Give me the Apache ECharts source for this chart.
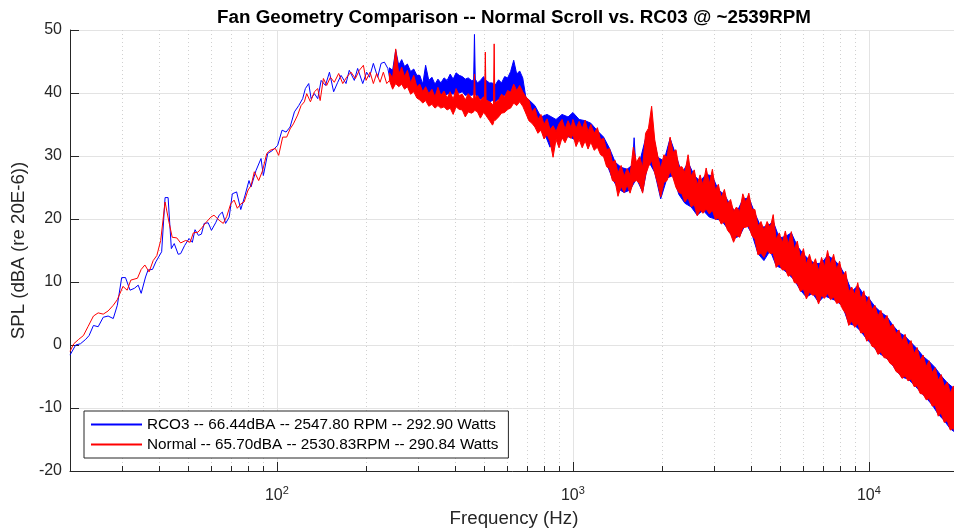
<!DOCTYPE html>
<html>
<head>
<meta charset="utf-8">
<title>Fan Geometry Comparison</title>
<script src="https://cdn.jsdelivr.net/npm/echarts@6/dist/echarts.min.js"></script>
<style>
html, body { margin: 0; padding: 0; background: #fff; }
#chart { width: 954px; height: 531px; }
</style>
</head>
<body>
<div id="chart"></div>
<script>
const rco3Name = 'RCO3 -- 66.44dBA -- 2547.80 RPM -- 292.90 Watts'
const normalName = 'Normal -- 65.70dBA -- 2530.83RPM -- 290.84 Watts'

// low frequency part (20 - 240 Hz), read point by point
const rco3LowFreq = [20, 20.9, 21.7, 22.6, 23.2, 24.0, 24.9, 25.9, 26.9, 28.0,
  28.9, 29.9, 30.8, 31.9, 33.0, 34.0, 34.8, 36.0, 36.7, 38.0,
  39.0, 40.8, 41.9, 42.9, 44.0, 45.0, 46.4, 47.3, 48.8, 50.5,
  51.8, 52.9, 54.3, 55.6, 56.8, 58.6, 60.1, 62.1, 63.8, 65.4,
  67.1, 69.0, 70.7, 73.1, 75.5, 78.1, 80.5, 81.8, 85.0, 88.4,
  90.0, 93.1, 96.8, 100.6, 104.1, 107.4, 110.8, 114.6, 118.5, 122.2,
  124.8, 128.1, 130.5, 133.9, 137.4, 141.1, 145.9, 150.5, 155.5, 160.5,
  164.7, 171.2, 175.6, 182.6, 187.4, 195.0, 201.0, 205.4, 211.8, 219.0,
  224.9, 230.8, 237.0]
const rco3LowSpl = [-1.6, 0.0, 0.2, 0.9, 1.5, 3.1, 2.9, 4.4, 4.6, 4.2,
  6.3, 10.7, 10.7, 8.7, 9.0, 9.5, 8.2, 10.8, 11.9, 12.0,
  13.2, 14.8, 23.4, 23.4, 15.3, 16.1, 14.4, 14.5, 15.8, 16.9,
  16.3, 18.3, 17.4, 17.6, 19.3, 19.4, 18.2, 19.4, 20.6, 21.1,
  19.3, 20.3, 24.0, 24.3, 21.5, 23.8, 26.1, 25.1, 27.7, 29.6,
  26.9, 30.4, 30.9, 31.7, 34.1, 33.8, 34.6, 37.0, 38.0, 39.1,
  40.7, 41.5, 39.1, 39.9, 39.1, 42.0, 41.2, 43.3, 40.2, 41.7,
  42.8, 41.5, 43.6, 42.0, 43.9, 41.5, 43.3, 42.5, 44.7, 42.5,
  44.7, 44.9, 43.9]

const normalLowFreq = [20, 20.6, 21.4, 22.2, 23.0, 24.0, 24.9, 25.9, 26.9, 28.0,
  28.9, 30.2, 31.2, 32.1, 33.8, 34.8, 35.8, 37.0, 38.2, 39.3,
  40.5, 41.9, 43.2, 44.3, 45.9, 47.3, 49.2, 50.9, 52.2, 54.1,
  56.0, 57.5, 59.8, 61.3, 63.8, 65.9, 67.7, 69.8, 71.7, 73.5,
  75.5, 77.5, 79.9, 81.8, 83.9, 86.8, 89.5, 92.4, 94.8, 98.8,
  101.4, 104.6, 107.9, 110.8, 113.7, 117.5, 120.7, 123.8, 126.1, 129.8,
  133.9, 137.4, 140.0, 143.6, 147.3, 151.6, 156.3, 161.7, 166.9, 172.0,
  178.0, 184.1, 189.9, 196.0, 200.1, 206.4, 211.8, 217.3, 223.1, 228.9,
  235.0]
const normalLowSpl = [-1.0, 0.2, 0.9, 1.5, 2.9, 4.6, 5.1, 4.9, 5.4, 6.3,
  7.2, 9.3, 8.7, 10.3, 10.6, 12.0, 12.7, 11.6, 13.4, 14.2,
  16.6, 22.7, 19.5, 17.1, 17.0, 16.2, 16.6, 16.3, 17.8, 17.9,
  18.7, 19.4, 20.3, 20.6, 19.8, 19.3, 20.4, 22.4, 23.0, 21.7,
  22.4, 22.7, 24.6, 25.3, 27.5, 26.1, 27.7, 30.4, 30.9, 31.2,
  30.1, 33.0, 33.0, 34.3, 35.1, 36.5, 38.0, 38.6, 39.9, 38.6,
  40.2, 40.7, 38.8, 42.3, 41.2, 42.5, 41.7, 43.1, 41.5, 42.5,
  43.3, 42.3, 43.6, 44.4, 42.0, 43.3, 41.5, 43.1, 41.7, 43.3,
  41.5]

// mid part (240 - 693 Hz): noisy trace kept as upper and lower edges, spikes included
const midFreq = [240, 246, 252, 258, 264, 270, 276, 283, 290, 297,
  304, 311, 318, 326, 334, 342, 350, 358, 367, 376,
  385, 394, 403, 413, 423, 433, 443, 454, 462, 465,
  468, 476, 487, 499, 503, 506, 509, 523, 535, 539,
  542, 545, 561, 574, 588, 602, 616, 631, 646, 661,
  677, 693]
const normalMidTop = [43.2, 42.4, 47.0, 43.0, 44.1, 42.6, 43.6, 41.6, 42.8, 41.0,
  41.4, 40.2, 41.0, 39.9, 40.6, 39.4, 40.9, 39.6, 40.3, 39.2,
  40.2, 39.0, 40.7, 39.6, 39.8, 38.9, 39.9, 39.2, 39.0, 43.0,
  39.3, 39.6, 38.8, 39.4, 39.0, 46.5, 38.9, 38.6, 38.2, 38.0,
  47.8, 38.4, 38.9, 39.8, 39.4, 40.4, 40.1, 41.4, 40.4, 41.2,
  40.2, 39.4]
const normalMidBot = [42.0, 40.6, 41.5, 41.0, 41.4, 40.6, 41.0, 39.8, 40.2, 39.2,
  38.9, 38.4, 38.8, 37.9, 38.2, 37.6, 38.0, 37.6, 37.8, 37.3,
  37.6, 36.6, 37.8, 37.4, 37.3, 36.2, 37.0, 36.8, 37.0, 37.3,
  37.2, 37.0, 36.0, 36.9, 36.7, 36.6, 36.4, 35.6, 34.9, 35.2,
  35.8, 35.6, 36.2, 36.8, 36.9, 37.4, 37.6, 38.4, 38.0, 38.6,
  37.9, 36.8]
const rco3MidTop = [44.0, 43.6, 46.8, 44.4, 45.3, 44.2, 44.6, 43.4, 43.8, 42.8,
  42.8, 41.4, 44.4, 42.0, 42.5, 41.4, 42.2, 41.6, 42.4, 42.0,
  43.0, 42.2, 43.2, 42.8, 42.6, 42.2, 42.4, 42.0, 42.0, 49.3,
  42.2, 41.6, 42.0, 42.6, 42.2, 41.8, 42.0, 41.6, 41.6, 41.4,
  41.0, 41.2, 42.1, 41.6, 42.6, 42.4, 43.4, 45.2, 43.0, 43.5,
  42.4, 39.4]
const rco3MidBot = [42.6, 41.8, 42.8, 42.4, 42.8, 42.0, 42.2, 41.0, 41.2, 40.4,
  39.8, 39.0, 39.6, 39.2, 38.8, 38.6, 39.0, 39.2, 39.6, 39.8,
  40.0, 39.8, 40.2, 40.0, 40.2, 39.6, 39.8, 39.6, 39.8, 40.0,
  39.8, 39.4, 39.0, 39.4, 39.2, 39.0, 38.9, 38.6, 38.8, 38.7,
  38.6, 38.6, 39.0, 39.4, 39.6, 39.8, 40.2, 40.6, 40.4, 40.4,
  39.6, 38.0]

// dense part (693 Hz - 20 kHz): the Normal trace reads as a solid band,
// kept as its ragged upper and lower edges on shared bins
const denseFreq = [693, 710, 727, 744, 762, 780, 799, 818, 837, 857,
  877, 898, 919, 941, 963, 986, 1000, 1025, 1050, 1075,
  1100, 1125, 1150, 1180, 1210, 1240, 1270, 1300, 1330, 1360,
  1390, 1420, 1455, 1490, 1525, 1560, 1600, 1640, 1680, 1720,
  1760, 1800, 1845, 1890, 1935, 1980, 2030, 2080, 2130, 2180,
  2230, 2280, 2335, 2390, 2450, 2510, 2570, 2630, 2690, 2750,
  2820, 2890, 2960, 3030, 3100, 3170, 3250, 3330, 3410, 3490,
  3570, 3660, 3750, 3840, 3930, 4020, 4120, 4220, 4320, 4420,
  4530, 4640, 4750, 4860, 4980, 5100, 5220, 5340, 5470, 5600,
  5730, 5870, 6010, 6150, 6300, 6450, 6600, 6760, 6920, 7080,
  7250, 7420, 7600, 7780, 7960, 8150, 8350, 8550, 8750, 8960,
  9170, 9390, 9610, 9840, 10000, 10240, 10480, 10730, 10980, 11240,
  11510, 11780, 12060, 12350, 12640, 12940, 13250, 13560, 13880, 14210,
  14550, 14900, 15250, 15610, 15980, 16360, 16750, 17150, 17550, 17970,
  18400, 18830, 19280, 19740, 20000]
const normalTopSpl = [39.4, 38.9, 37.0, 37.6, 35.8, 36.6, 35.0, 35.9, 34.2, 34.8,
  33.9, 35.1, 35.8, 34.3, 35.6, 34.5, 35.8, 34.4, 35.5, 34.3,
  35.7, 33.9, 35.0, 33.6, 34.5, 32.6, 32.8, 31.0, 31.2, 29.0,
  29.3, 27.3, 28.5, 26.8, 28.0, 27.0, 31.4, 29.0, 29.9, 28.2,
  33.6, 34.4, 37.9, 32.6, 30.0, 28.0, 30.2, 29.8, 33.0, 30.6,
  31.0, 28.2, 28.3, 27.4, 30.2, 26.8, 27.8, 25.4, 27.0, 25.4,
  28.1, 25.6, 27.9, 24.6, 25.5, 23.4, 24.7, 22.4, 23.1, 21.2,
  21.9, 21.2, 24.0, 22.6, 24.1, 21.6, 21.5, 18.9, 19.6, 18.2,
  19.6, 18.6, 20.7, 16.8, 17.8, 16.2, 18.1, 16.0, 18.0, 15.2,
  16.5, 13.8, 15.3, 12.8, 14.4, 12.6, 13.7, 11.8, 13.9, 12.4,
  15.0, 12.8, 14.4, 12.0, 13.3, 10.9, 11.7, 8.4, 9.2, 8.0,
  9.9, 7.2, 8.6, 6.4, 7.7, 5.6, 6.3, 4.6, 5.5, 3.9,
  4.7, 2.9, 3.3, 1.8, 2.4, 0.6, 1.7, -0.1, 0.7, -1.4,
  -0.4, -2.4, -1.6, -3.4, -2.5, -4.4, -3.6, -5.6, -4.7, -6.6,
  -5.9, -7.6, -6.5, -8.4, -8.6]
const normalBotSpl = [36.8, 35.6, 35.2, 34.6, 33.6, 34.1, 32.7, 33.4, 32.3, 29.8,
  32.6, 31.3, 32.9, 32.1, 33.2, 32.8, 33.4, 31.5, 32.6, 31.3,
  32.4, 31.1, 32.2, 30.9, 31.4, 30.2, 29.9, 28.3, 28.0, 26.1,
  25.9, 23.6, 25.2, 24.2, 25.4, 24.1, 25.9, 26.1, 25.6, 24.1,
  27.0, 28.3, 29.3, 27.3, 25.6, 23.5, 25.8, 26.1, 27.6, 26.5,
  25.0, 24.2, 24.0, 22.7, 23.4, 21.9, 22.3, 20.5, 21.4, 20.9,
  21.6, 20.8, 21.4, 19.9, 20.2, 19.2, 19.6, 18.2, 17.6, 16.3,
  17.4, 17.1, 18.6, 18.7, 18.9, 17.4, 16.8, 14.3, 14.6, 13.9,
  15.0, 14.5, 14.6, 12.3, 12.9, 11.9, 12.0, 10.9, 11.2, 9.9,
  9.8, 8.5, 8.9, 7.3, 8.4, 7.9, 8.0, 6.5, 7.9, 7.4,
  8.2, 7.2, 7.6, 6.6, 6.8, 5.7, 5.0, 3.1, 3.8, 2.8,
  3.4, 1.9, 2.0, 0.6, 1.0, -0.2, -0.4, -1.5, -1.1, -2.0,
  -2.1, -2.9, -3.2, -4.2, -4.5, -5.3, -4.9, -5.7, -5.4, -6.6,
  -6.5, -7.7, -7.8, -8.7, -8.5, -9.7, -9.6, -11.3, -10.8, -12.3,
  -12.0, -13.5, -13.2, -14.3, -14.0]

// RCO3 band mostly lies under the Normal one: peaks and dips on their own bins
const rco3TopFreq = [693, 744, 780, 818, 877, 919, 963, 1000, 1050, 1100,
  1150, 1210, 1270, 1330, 1390, 1455, 1525, 1590, 1610, 1630,
  1680, 1760, 1845, 1935, 2030, 2130, 2230, 2335, 2450, 2570,
  2690, 2820, 2960, 3100, 3250, 3410, 3570, 3750, 3930, 4120,
  4320, 4530, 4750, 4980, 5220, 5470, 5730, 6010, 6300, 6600,
  6920, 7250, 7600, 7960, 8350, 8750, 9170, 9610, 10000, 10480,
  10980, 11510, 12060, 12640, 13250, 13880, 14550, 15250, 15980, 16750,
  17550, 18400, 19280, 20000]
const rco3TopSpl = [39.4, 38.0, 36.2, 36.6, 35.8, 36.6, 36.2, 36.9, 35.8, 35.6,
  35.2, 34.0, 33.0, 31.2, 29.0, 28.2, 27.9, 28.6, 32.9, 28.8,
  29.0, 32.8, 34.4, 29.8, 29.2, 32.8, 30.1, 27.2, 29.0, 26.9,
  26.0, 27.1, 26.8, 24.6, 23.9, 22.1, 21.0, 23.1, 23.4, 20.9,
  18.7, 18.8, 19.6, 17.0, 17.2, 17.8, 15.7, 14.4, 13.5, 12.9,
  13.0, 14.2, 13.6, 12.6, 10.9, 8.5, 9.4, 8.0, 7.4, 6.1,
  5.2, 4.5, 3.1, 2.0, 1.4, 0.4, -0.6, -1.8, -2.6, -3.6,
  -4.9, -6.0, -6.8, -8.6]
const rco3BotFreq = [693, 727, 762, 799, 837, 857, 898, 941, 986, 1025,
  1075, 1125, 1180, 1240, 1300, 1360, 1420, 1490, 1560, 1640,
  1720, 1800, 1890, 1980, 2080, 2180, 2280, 2390, 2510, 2630,
  2750, 2890, 3030, 3170, 3330, 3490, 3660, 3840, 4020, 4220,
  4420, 4640, 4860, 5100, 5340, 5600, 5870, 6150, 6450, 6760,
  7080, 7420, 7780, 8150, 8550, 8960, 9390, 9840, 10240, 10730,
  11240, 11780, 12350, 12940, 13560, 14210, 14900, 15610, 16360, 17150,
  17970, 18830, 19740, 20000]
const rco3BotSpl = [38.0, 36.2, 34.8, 33.8, 31.4, 33.2, 32.6, 33.2, 32.9, 32.5,
  33.2, 32.6, 32.4, 31.4, 28.8, 26.4, 24.8, 24.2, 24.6, 26.4,
  24.3, 29.2, 27.4, 23.2, 26.5, 26.9, 23.9, 22.5, 21.9, 20.6,
  21.4, 20.3, 20.0, 19.8, 18.5, 16.9, 17.3, 19.3, 17.7, 14.5,
  13.4, 15.0, 12.6, 12.1, 11.3, 10.3, 8.7, 7.6, 8.2, 6.8,
  7.8, 7.4, 7.0, 6.1, 3.4, 3.1, 2.2, 0.9, 0.1, -1.2,
  -1.8, -2.6, -4.0, -5.1, -5.4, -6.3, -7.4, -8.4, -9.5, -11.0,
  -12.0, -13.3, -14.0, -14.2]

// axis limits and minor grid positions
const freqMin = 20
const freqMax = 20000
const splMin = -20
const splMax = 50
const splStep = 10
const minorFreq = [30, 40, 50, 60, 70, 80, 90,
  200, 300, 400, 500, 600, 700, 800, 900,
  2000, 3000, 4000, 5000, 6000, 7000, 8000, 9000]

const FONT = '"Liberation Sans", Arial, Helvetica, sans-serif'
const AXIS_COLOR = '#262626'
const GRID_COLOR = '#e3e3e3'

function zipXY(xs, ys) {
  return xs.map((x, i) => [x, ys[i]])
}

function lineSeries(name, color, width, z, data) {
  return {
    name: name,
    type: 'line',
    z: z,
    showSymbol: false,
    symbol: 'none',
    color: color,
    lineStyle: { width: width, color: color },
    data: data
  }
}

// solid band between the upper and lower edge traces, placed through the axes
function bandSeries(name, color, z, topF, topV, botF, botV) {
  return {
    name: name,
    type: 'custom',
    z: z,
    silent: true,
    color: color,
    data: [[topF[0], topV[0]]],
    renderItem: function (params, api) {
      const pts = []
      for (let i = 0; i < topF.length; i++) pts.push(api.coord([topF[i], topV[i]]))
      for (let i = botF.length - 1; i >= 0; i--) pts.push(api.coord([botF[i], botV[i]]))
      return {
        type: 'polygon',
        shape: { points: pts },
        style: { fill: color, stroke: color, lineWidth: 1, lineJoin: 'miter', miterLimit: 3 }
      }
    }
  }
}

const chart = echarts.init(document.getElementById('chart'), null, { renderer: 'canvas' })

const option = {
  animation: false,
  backgroundColor: '#fff',
  textStyle: { fontFamily: FONT },
  title: {
    text: 'Fan Geometry Comparison -- Normal Scroll vs. RC03 @ ~2539RPM',
    left: 509,
    textAlign: 'center',
    top: 3,
    textStyle: { fontFamily: FONT, fontSize: 18.8, fontWeight: 'bold', color: '#000' }
  },
  grid: { left: 70, top: 30, width: 888, height: 441, containLabel: false, outerBoundsMode: 'none' },
  legend: {
    data: [rco3Name, normalName],
    orient: 'vertical',
    left: 84,
    top: 411,
    itemWidth: 51,
    itemHeight: 14,
    itemGap: 5,
    itemStyle: { opacity: 0 },
    padding: [6, 10, 6, 6],
    backgroundColor: '#fff',
    borderColor: AXIS_COLOR,
    borderWidth: 1,
    borderRadius: 0,
    textStyle: { fontFamily: FONT, fontSize: 15.3, color: '#000' }
  },
  xAxis: {
    type: 'log',
    logBase: 10,
    min: freqMin,
    max: freqMax,
    name: 'Frequency (Hz)',
    nameLocation: 'middle',
    nameGap: 38,
    nameTextStyle: { fontFamily: FONT, fontSize: 18.7, color: AXIS_COLOR },
    axisLine: { onZero: false, lineStyle: { color: AXIS_COLOR, width: 1 } },
    axisTick: { inside: true, length: 9, lineStyle: { color: AXIS_COLOR } },
    splitLine: { show: true, lineStyle: { color: GRID_COLOR, width: 1 } },
    axisLabel: {
      margin: 14,
      color: AXIS_COLOR,
      formatter: function (v) {
        const e = Math.round(Math.log10(v))
        if (Math.abs(v - Math.pow(10, e)) > 1e-6 * v) return ''
        return '{b|10}{s|' + e + '}'
      },
      rich: {
        b: { fontFamily: FONT, fontSize: 16, color: AXIS_COLOR },
        s: { fontFamily: FONT, fontSize: 11, color: AXIS_COLOR, padding: [0, 0, 10, 0] }
      }
    }
  },
  yAxis: {
    type: 'value',
    min: splMin,
    max: splMax,
    interval: splStep,
    name: 'SPL (dBA (re 20E-6))',
    nameLocation: 'middle',
    nameGap: 32.5,
    nameTextStyle: { fontFamily: FONT, fontSize: 18.7, color: AXIS_COLOR },
    axisLine: { show: true, lineStyle: { color: AXIS_COLOR, width: 1 } },
    axisTick: { show: true, inside: true, length: 9, lineStyle: { color: AXIS_COLOR } },
    splitLine: { show: true, lineStyle: { color: GRID_COLOR, width: 1 } },
    axisLabel: { margin: 8, fontFamily: FONT, fontSize: 16, color: AXIS_COLOR }
  },
  series: [
    {
      // minor dotted grid + small ticks of the log axis
      name: 'minor',
      type: 'custom',
      z: 1,
      silent: true,
      clip: false,
      data: minorFreq.map(f => [f, splMin]),
      renderItem: function (params, api) {
        const f = api.value(0)
        const top = api.coord([f, splMax])
        const bot = api.coord([f, splMin])
        const x = Math.round(top[0]) + 0.5
        return {
          type: 'group',
          children: [
            {
              type: 'line',
              shape: { x1: x, y1: top[1], x2: x, y2: bot[1] },
              style: { stroke: '#d0d0d0', lineWidth: 1, lineDash: [1, 3] }
            },
            {
              type: 'line',
              shape: { x1: x, y1: bot[1], x2: x, y2: bot[1] - 5 },
              style: { stroke: AXIS_COLOR, lineWidth: 1 }
            }
          ]
        }
      }
    },
    lineSeries(rco3Name, '#0000ff', 1, 2,
      zipXY(rco3LowFreq, rco3LowSpl).concat([[midFreq[0], rco3MidBot[0]]])),
    bandSeries(rco3Name, '#0000ff', 2, midFreq, rco3MidTop, midFreq, rco3MidBot),
    bandSeries(rco3Name, '#0000ff', 2, rco3TopFreq, rco3TopSpl, rco3BotFreq, rco3BotSpl),
    lineSeries(normalName, '#ff0000', 1, 3,
      zipXY(normalLowFreq, normalLowSpl).concat([[midFreq[0], normalMidBot[0]]])),
    bandSeries(normalName, '#ff0000', 3, midFreq, normalMidTop, midFreq, normalMidBot),
    bandSeries(normalName, '#ff0000', 3, denseFreq, normalTopSpl, denseFreq, normalBotSpl)
  ]
}

chart.setOption(option)
</script>
</body>
</html>
